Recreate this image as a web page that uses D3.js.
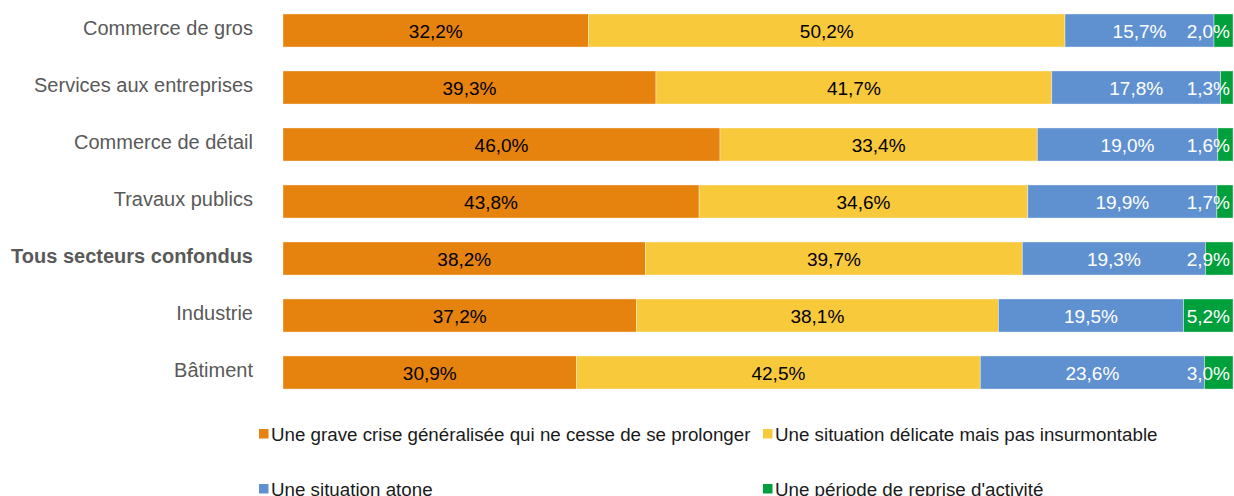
<!DOCTYPE html>
<html><head><meta charset="utf-8">
<script src="https://cdn.jsdelivr.net/npm/d3@7"></script>
<style>html,body{margin:0;padding:0;background:#fff;} svg{display:block;font-family:"Liberation Sans",Arial,sans-serif;}</style>
</head><body>
<script>
const categories = ["Commerce de gros","Services aux entreprises","Commerce de détail","Travaux publics","Tous secteurs confondus","Industrie","Bâtiment"];
const seriesNames = ["Une grave crise généralisée qui ne cesse de se prolonger","Une situation délicate mais pas insurmontable","Une situation atone","Une période de reprise d'activité"];
const grave   = [32.2, 39.3, 46.0, 43.8, 38.2, 37.2, 30.9];
const delicate= [50.2, 41.7, 33.4, 34.6, 39.7, 38.1, 42.5];
const atone   = [15.7, 17.8, 19.0, 19.9, 19.3, 19.5, 23.6];
const reprise = [2.0, 1.3, 1.6, 1.7, 2.9, 5.2, 3.0];
const colors = ["#E6820E","#F9C93C","#5F91D1","#00A03C"];
const labelColors = ["#000","#000","#fff","#fff"];
const boldCategory = "Tous secteurs confondus";

const W=1234,H=496;
const svg=d3.select("body").append("svg").attr("width",W).attr("height",H);
const series=[grave,delicate,atone,reprise];
const rows=categories.map((c,i)=>{const o={cat:c};series.forEach((s,k)=>o["s"+k]=s[i]);return o;});
const keys=["s0","s1","s2","s3"];
const stack=d3.stack().keys(keys).offset(d3.stackOffsetExpand)(rows);

const x=d3.scaleLinear().domain([0,1]).range([283,1233]);
const y=d3.scaleBand().domain(categories).range([2,401]).paddingInner(0.42).paddingOuter(0.21);

// category labels
svg.append("g").selectAll("text").data(categories).join("text")
  .attr("x",253).attr("y",d=>y(d)+y.bandwidth()/2+4)
  .attr("text-anchor","end").attr("fill","#595959")
  .attr("font-size","20px").attr("font-weight",d=>d===boldCategory?"bold":"normal")
  .text(d=>d);

const fmt=v=>d3.format(".1f")(v).replace(".",",")+"%";
stack.forEach((layer,k)=>{
  const g=svg.append("g");
  g.selectAll("rect").data(layer).join("rect")
    .attr("x",d=>x(d[0])).attr("width",d=>x(d[1])-x(d[0]))
    .attr("y",d=>y(d.data.cat)).attr("height",y.bandwidth())
    .attr("fill",colors[k]).attr("stroke","#ffffff").attr("stroke-opacity",0.5).attr("stroke-width",0.75);
});
stack.forEach((layer,k)=>{
  const g=svg.append("g");
  g.selectAll("text").data(layer).join("text")
    .attr("y",d=>y(d.data.cat)+y.bandwidth()/2+7)
    .attr("fill",labelColors[k]).attr("font-size","19px").attr("text-anchor","middle")
    .text(d=>fmt(d.data[keys[k]]))
    .each(function(d){
      const c=(x(d[0])+x(d[1]))/2;
      const w=this.getComputedTextLength();
      const maxRight=1230;
      const cx=Math.min(c,maxRight-w/2);
      d3.select(this).attr("x",cx);
    });
});

// legend
const legendPos=[[259,433.5],[763,433.5],[259,488.5],[763,488.5]];
const lg=svg.append("g");
seriesNames.forEach((n,k)=>{
  const [lx,ly]=legendPos[k];
  lg.append("rect").attr("x",lx).attr("y",ly-4.5).attr("width",9.5).attr("height",9.5).attr("fill",colors[k]);
  lg.append("text").attr("x",lx+12).attr("y",ly+7).attr("font-size","18.75px").attr("fill","#1a1a1a").text(n);
});
</script>
</body></html>
